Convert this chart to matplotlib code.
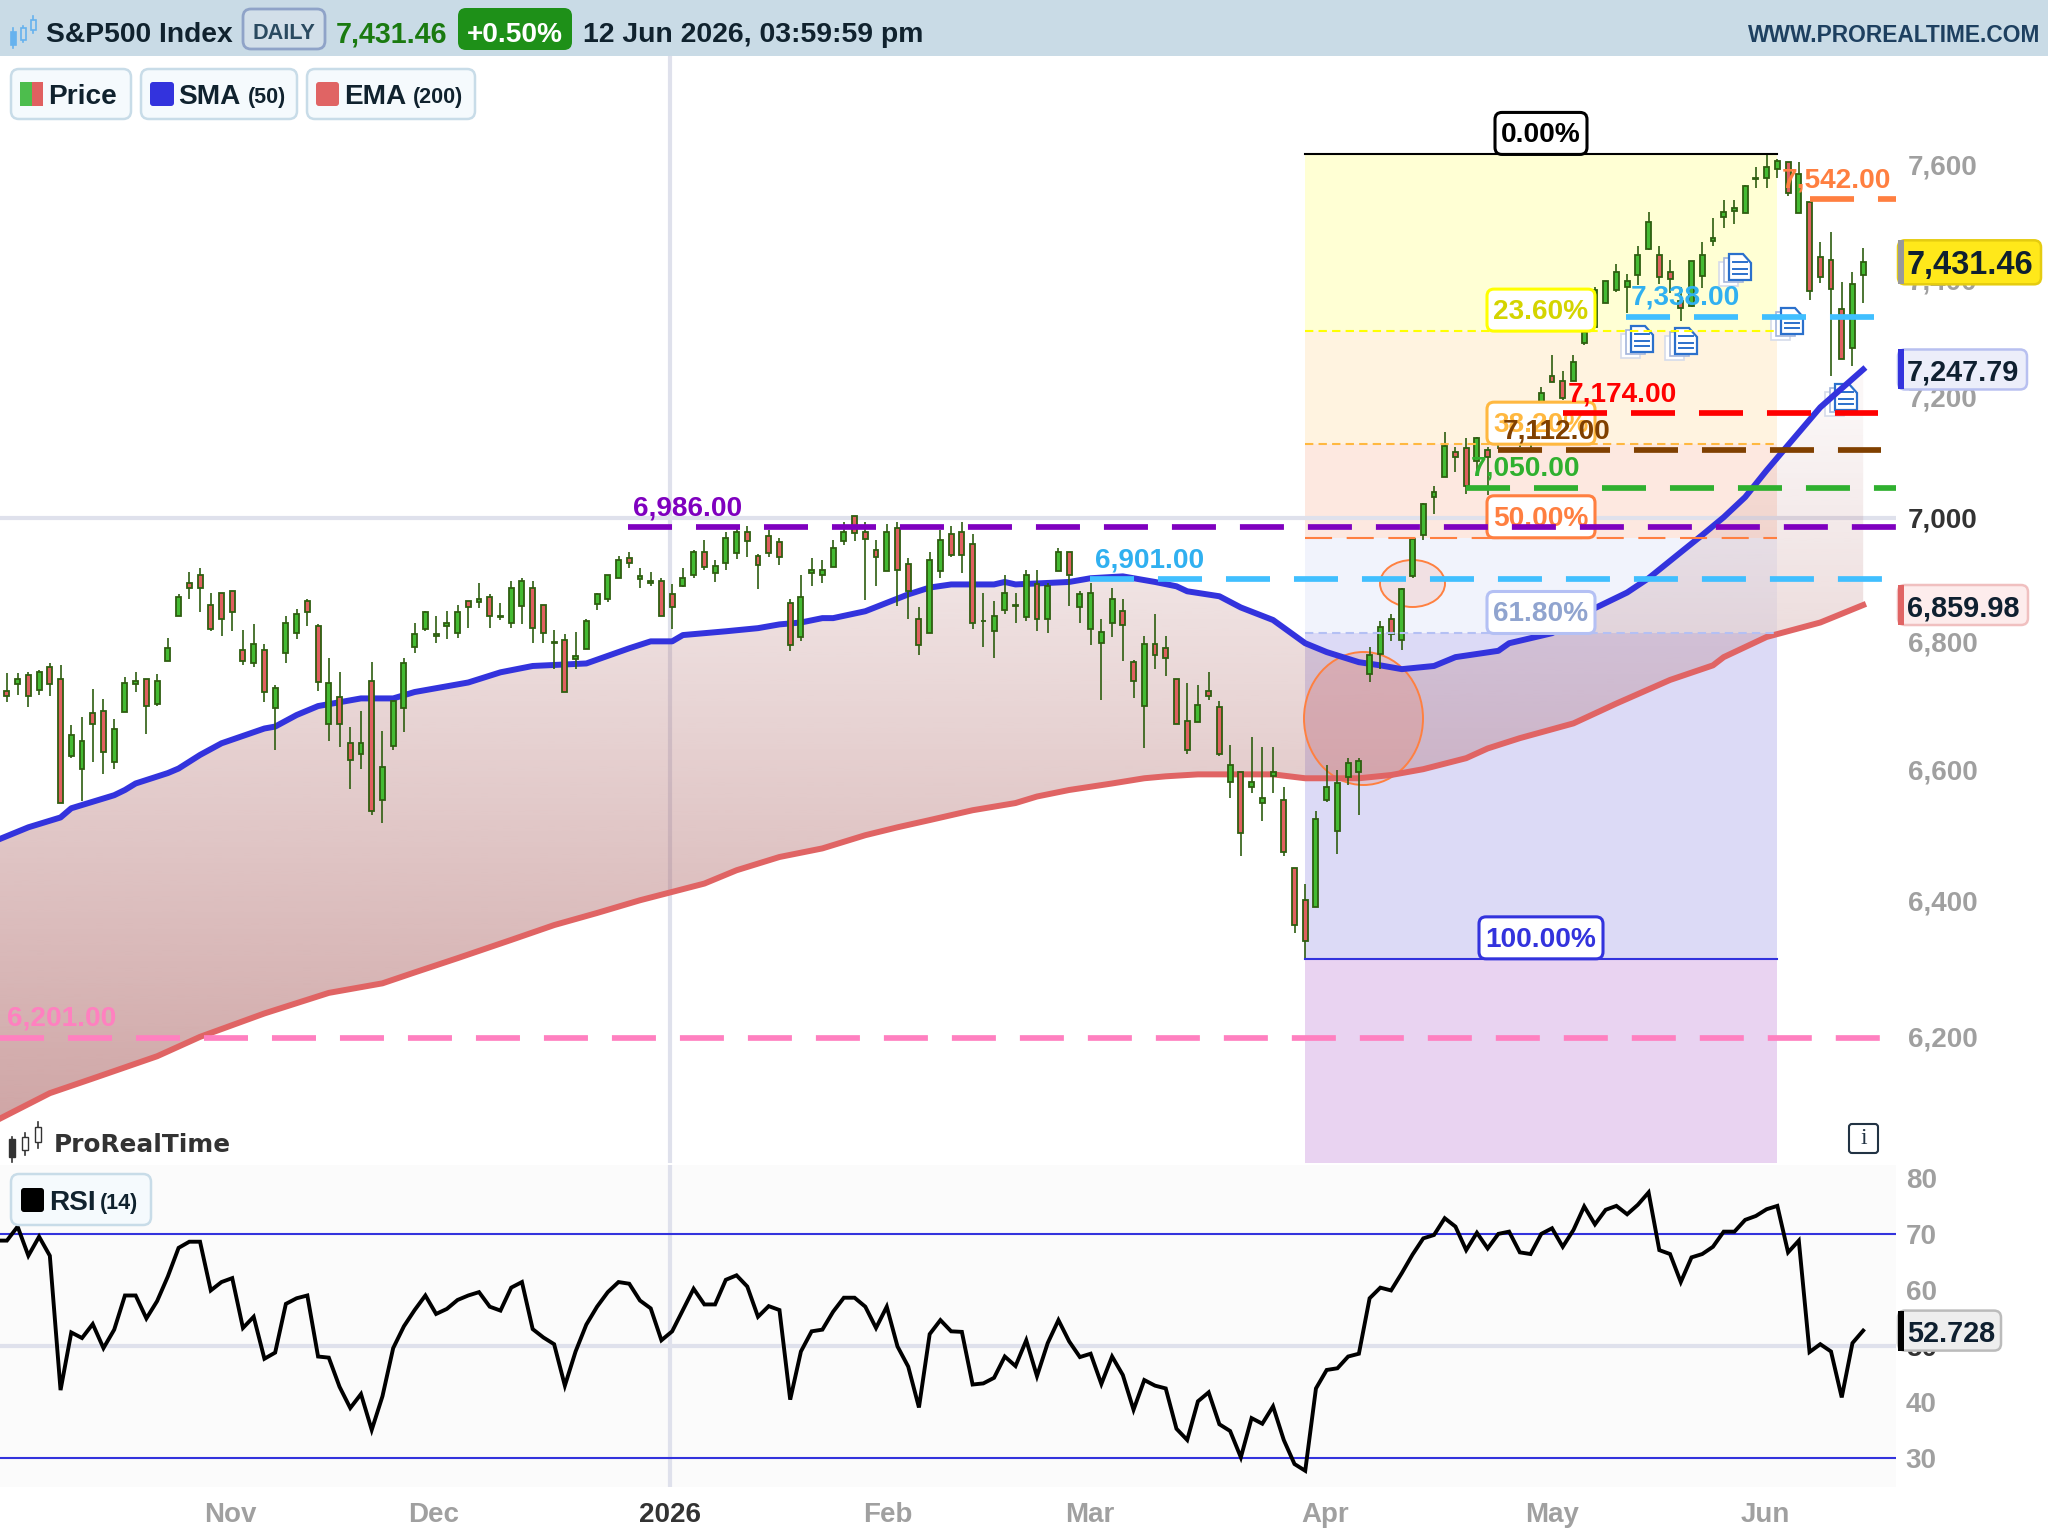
import numpy as np
import matplotlib
matplotlib.use("Agg")
import matplotlib.pyplot as plt
from matplotlib.patches import FancyBboxPatch, Ellipse, Rectangle, PathPatch, Polygon
from matplotlib.path import Path
from matplotlib.ticker import FixedLocator, FuncFormatter, NullLocator
from matplotlib.transforms import ScaledTranslation

plt.rcParams['font.family'] = ['Liberation Sans', 'DejaVu Sans']
plt.rcParams['font.weight'] = 'bold'

# daily S&P500 bars
opens = [6723,6734,6748,6725,6761,6742,6622,6603,6689,6692,
         6613,6691,6734,6742,6703,6771,6843,6896,6909,6860,
         6880,6883,6789,6768,6789,6697,6784,6815,6867,6826,
         6672,6714,6642,6625,6739,6554,6638,6697,6793,6821,
         6811,6827,6815,6867,6865,6873,6840,6831,6859,6887,
         6860,6799,6804,6774,6790,6862,6869,6904,6935,6901,
         6895,6899,6877,6891,6908,6945,6911,6927,6944,6978,
         6939,6971,6961,6863,6809,6911,6908,6921,6963,7004,
         6978,6948,6914,6984,6926,6838,6815,6914,6974,6978,
         6958,6834,6818,6852,6859,6840,6893,6837,6914,6945,
         6856,6821,6800,6831,6851,6770,6700,6798,6792,6742,
         6677,6675,6723,6698,6582,6597,6575,6550,6592,6555,
         6452,6403,6393,6555,6508,6590,6598,6750,6782,6838,
         6804,6907,6973,7035,7068,7109,7116,7095,7112,7129,
         7137,7145,7154,7170,7237,7229,7229,7292,7320,7361,
         7383,7389,7409,7454,7445,7414,7364,7356,7408,7468,
         7510,7521,7517,7577,7580,7595,7607,7517,7536,7440,
         7436,7351,7285,7409]
highs = [6752,6752,6754,6757,6767,6764,6670,6683,6726,6711,
         6680,6745,6754,6742,6751,6807,6877,6913,6919,6880,
         6880,6883,6820,6829,6798,6733,6842,6854,6870,6829,
         6776,6754,6667,6692,6770,6661,6708,6776,6832,6851,
         6842,6851,6860,6867,6896,6877,6863,6899,6903,6899,
         6860,6820,6814,6817,6838,6880,6909,6939,6945,6919,
         6913,6903,6893,6919,6948,6965,6932,6978,6988,6988,
         6942,6981,6968,6870,6909,6935,6932,6965,6994,7004,
         6994,6965,6991,6994,6935,6857,6945,6981,6988,6994,
         6974,6880,6867,6909,6880,6916,6916,6896,6952,6946,
         6883,6895,6838,6887,6870,6773,6810,6845,6810,6742,
         6736,6733,6754,6708,6639,6597,6652,6636,6636,6574,
         6452,6427,6538,6609,6600,6619,6619,6793,6835,6845,
         6887,6969,7025,7053,7142,7117,7132,7134,7117,7162,
         7175,7187,7195,7218,7273,7246,7273,7314,7388,7399,
         7428,7411,7459,7519,7459,7435,7388,7433,7466,7508,
         7540,7540,7566,7598,7621,7612,7607,7607,7536,7466,
         7484,7397,7414,7456]
lows = [6706,6718,6699,6718,6715,6550,6619,6553,6613,6594,
        6603,6691,6722,6656,6700,6771,6843,6869,6849,6818,
        6811,6818,6765,6762,6706,6631,6768,6805,6827,6724,
        6646,6637,6572,6603,6532,6520,6631,6659,6783,6818,
        6799,6805,6808,6824,6855,6824,6836,6824,6830,6799,
        6799,6759,6722,6759,6790,6852,6864,6904,6920,6888,
        6891,6843,6821,6889,6903,6917,6897,6916,6934,6937,
        6885,6937,6924,6787,6803,6891,6895,6921,6957,6963,
        6868,6891,6914,6859,6837,6781,6815,6904,6937,6911,
        6821,6793,6775,6846,6831,6834,6818,6815,6914,6859,
        6831,6796,6709,6809,6771,6712,6634,6759,6747,6672,
        6625,6675,6709,6622,6557,6469,6566,6522,6566,6469,
        6354,6316,6393,6552,6472,6577,6531,6737,6759,6803,
        6788,6904,6965,7008,7068,7076,7040,7078,7038,7115,
        7125,7117,7115,7162,7226,7197,7229,7290,7320,7361,
        7380,7344,7392,7452,7394,7378,7331,7355,7387,7459,
        7491,7499,7517,7561,7561,7580,7547,7517,7366,7396,
        7236,7265,7253,7361]
closes = [6715,6742,6715,6754,6734,6550,6655,6645,6672,6628,
          6664,6736,6739,6700,6739,6792,6873,6888,6888,6821,
          6837,6849,6771,6798,6722,6729,6832,6845,6849,6737,
          6736,6672,6616,6642,6538,6605,6708,6767,6814,6848,
          6814,6832,6848,6856,6870,6843,6842,6887,6899,6824,
          6815,6801,6722,6779,6835,6877,6909,6932,6927,6906,
          6899,6843,6856,6903,6945,6921,6922,6968,6978,6963,
          6924,6944,6937,6796,6873,6916,6916,6952,6978,6976,
          6966,6937,6978,6917,6882,6796,6932,6965,6940,6940,
          6831,6835,6842,6880,6860,6909,6837,6890,6945,6908,
          6877,6880,6817,6870,6828,6740,6798,6781,6775,6672,
          6631,6701,6715,6625,6608,6504,6583,6558,6597,6476,
          6366,6342,6526,6575,6581,6612,6615,6781,6825,6814,
          6885,6967,7023,7043,7119,7101,7053,7132,7101,7154,
          7162,7175,7187,7208,7226,7200,7260,7312,7383,7399,
          7414,7399,7445,7501,7406,7402,7352,7433,7445,7473,
          7519,7526,7565,7580,7598,7610,7552,7586,7381,7406,
          7385,7265,7394,7431.46]

# moving averages, values taken where the line bends
sma_bars = [-1,2,5,6,10,11,12,15,16,18,20,24,25,27,29,33,36,38,43,46,49,54,58,60,62,63,65,67,70,72,
            74,76,77,80,84,86,88,92,93,94,99,101,104,107,109,110,113,115,118,121,123,126,128,130,133,
            135,139,140,144,148,151,153,156,158,160,162,164,166,169,173]
sma50 = [6493,6513,6528,6542,6562,6570,6580,6596,6603,6624,6642,6665,6668,6686,6700,6712,6712,6722,6737,6753,
         6763,6767,6791,6802,6802,6812,6815,6818,6823,6829,6832,6839,6839,6850,6877,6888,6893,6893,6897,6893,
         6897,6903,6906,6897,6890,6882,6874,6856,6836,6799,6785,6769,6764,6758,6763,6777,6787,6799,6815,6855,
         6880,6903,6945,6973,7002,7035,7079,7121,7184,7247.79]
ema_bars = [-1,4,8,14,18,24,30,35,38,42,47,51,55,59,65,68,72,76,80,83,86,90,94,96,99,103,106,108,111,118,
            121,126,129,132,136,138,141,146,150,155,159,160,164,169,173]
ema200 = [6082,6121,6142,6174,6202,6236,6266,6280,6296,6317,6344,6366,6384,6403,6428,6448,6468,6481,6501,6513,
          6524,6539,6550,6560,6570,6580,6588,6591,6594,6594,6588,6588,6593,6602,6619,6634,6650,6673,6704,6741,
          6764,6777,6809,6832,6859.98]

# first value belongs to the session before the first visible bar
rsi14 = [68.8,68.8,71.3,66.1,69.5,66.1,42.1,52.4,51.4,53.9,49.6,
         52.9,59.0,59.0,54.9,58.0,62.4,67.5,68.6,68.6,59.9,
         61.4,62.1,53.2,55.2,47.7,48.8,57.5,58.5,59.0,48.1,
         47.9,42.7,38.9,41.4,35.0,41.0,49.6,53.5,56.4,59.0,
         55.7,56.6,58.2,59.0,59.6,57.0,56.3,60.4,61.4,53.0,
         51.5,50.3,42.9,49.0,53.8,57.0,59.6,61.4,61.1,58.1,
         56.7,51.0,52.6,56.4,60.2,57.4,57.4,61.8,62.6,60.6,
         55.2,57.1,56.4,40.4,49.0,52.6,52.9,56.1,58.6,58.6,
         57.0,53.2,57.0,49.9,46.3,39.0,52.1,54.6,52.6,52.5,
         43.1,43.3,44.3,48.1,46.4,51.0,44.6,50.5,54.6,50.8,
         48.0,48.6,43.2,48.1,44.8,38.6,43.9,42.9,42.4,35.2,
         33.2,40.1,41.7,36.0,34.8,30.1,37.1,36.1,39.2,33.2,
         28.9,27.7,42.4,45.7,46.0,48.1,48.6,58.5,60.4,59.9,
         63.0,66.3,69.2,69.8,72.8,71.3,67.1,70.2,67.4,70.0,
         70.4,66.7,66.4,70.0,71.0,67.7,70.7,74.9,71.7,74.3,
         75.0,73.5,75.2,77.4,67.1,66.4,61.4,65.8,66.4,67.7,
         70.4,70.4,72.5,73.2,74.4,75.0,66.7,68.8,48.9,50.3,
         49.0,40.8,50.5,52.728]

month_ticks = [20.8, 39.8, 61.8, 82.1, 100.95, 122.9, 144.0, 163.9]
month_labels = ['Nov', 'Dec', '2026', 'Feb', 'Mar', 'Apr', 'May', 'Jun']
price_ticks = [6200, 6400, 6600, 6800, 7000, 7200, 7400, 7600]
rsi_ticks = [30, 40, 50, 60, 70, 80]

# horizontal levels: price, colour, first bar, last bar
level_prices = [7542, 7338, 7174, 7112, 7050, 6986, 6901, 6201]
level_colors = ['#FF7F40', '#40BFFF', '#FF0000', '#804000', '#2FB02F', '#7F00BF', '#40BFFF', '#FF80C0']
level_text_colors = ['#FF7F40', '#30B0F0', '#FF0000', '#804000', '#2FB02F', '#7F00BF', '#30B0F0', '#FF80C0']
level_from = [168, 150.9, 145, 139, 136, 57.9, 100.9, -0.64]
level_to = [176.1, 174, 174.4, 174.7, 176.1, 176.1, 174.8, 174.7]

fib_ratios = [0.0, 0.236, 0.382, 0.5, 0.618, 1.0]
fib_names = ['0.00%', '23.60%', '38.20%', '50.00%', '61.80%', '100.00%']
fib_high = 7621
fib_low = 6316
fib_start = 121
fib_end = 165

BAR0, BARW = 6.9, 10.73
W, H = 2048, 1536
AX_R, AX_T, AX_B = 1896, 55, 1163
RSI_T, RSI_B = 1165, 1487

fig = plt.figure(figsize=(W / 100, H / 100), dpi=100, facecolor='white')
ax = fig.add_axes([0, 1 - AX_B / H, AX_R / W, (AX_B - AX_T) / H])
ax2 = fig.add_axes([0, 1 - RSI_B / H, AX_R / W, (RSI_B - RSI_T) / H])
ov = fig.add_axes([0, 0, 1, 1], facecolor='none', zorder=10)
ov.set_xlim(0, W)
ov.set_ylim(H, 0)
ov.axis('off')

xlim = (-BAR0 / BARW, (AX_R - BAR0) / BARW)
bars = np.arange(len(opens))


def set_limits():
    ax.set_yscale('log')
    ax.set_xlim(*xlim)
    ax.set_ylim(6022, 7800)


def py(price):
    # height of a price on the figure, counted from the top
    return H - ax.transData.transform((0, price))[1]


def rbox(target, x0, y0, x1, y1, fc, ec, lw=1.5, r=7, z=6):
    box = FancyBboxPatch((x0, y0), x1 - x0, y1 - y0, boxstyle=f"round,pad=0,rounding_size={r}",
                         fc=fc, ec=ec, lw=lw, zorder=z, transform=ov.transData, clip_on=False)
    target.add_patch(box)
    return box


def lab(x, y, s, size=20.2, color='#10222E', ha='left', weight='bold', target=ov, z=20, **kw):
    return target.text(x, y, s, fontsize=size, color=color, ha=ha, va='center', weight=weight,
                       transform=ov.transData, zorder=z, clip_on=False, **kw)


def note_icon(x, y):
    # stacked page marker, drawn behind the averages
    ax.add_patch(Rectangle((x - 10, y + 8), 19, 24, fc='white', ec='#D5DBEA', lw=1.2,
                           transform=ov.transData, zorder=3.5))
    ax.add_patch(Rectangle((x - 5, y + 4), 19, 24, fc='white', ec='#A3B5DC', lw=1.2,
                           transform=ov.transData, zorder=3.5))
    page = [(x, y), (x + 14, y), (x + 22, y + 9), (x + 22, y + 26), (x, y + 26)]
    ax.add_patch(Polygon(page, closed=True, fc='white', ec='#2B70CC', lw=1.6,
                         transform=ov.transData, zorder=3.6))
    for dy, x0 in [(8, 4), (15, 4), (20, 4)]:
        ax.plot([x + x0, x + 18], [y + dy, y + dy], color='#2B70CC', lw=1.4,
                transform=ov.transData, zorder=3.7)


set_limits()
ax.set_facecolor('white')

# fibonacci bands
fib_levels = [fib_high - r * (fib_high - fib_low) for r in fib_ratios]
band_colors = ['#FFFFD4', '#FFF3E0', '#FDE8E0', '#F1F3FC', '#DCDAF6']
for i, col in enumerate(band_colors):
    ax.fill_between([fib_start, fib_end], fib_levels[i + 1], fib_levels[i], color=col, lw=0, zorder=0.5)
ax.fill_between([fib_start, fib_end], 6022, fib_levels[-1], color='#E9D3F1', lw=0, zorder=0.5)

ax.axhline(7000, color='#DFE1EC', lw=3, zorder=1)
ax.axvline(month_ticks[2], color='#DFE1EC', lw=3, zorder=1)

# band between the averages, fading towards the top
ys = np.linspace(0, 1, 256)
grad = np.zeros((256, 1, 4))
grad[..., 0] = 170 / 255
grad[..., 1] = 97 / 255
grad[..., 2] = 97 / 255
grad[:, 0, 3] = np.clip(0.19 + ((AX_T + ys * (AX_B - AX_T)) - 600) / 500 * 0.36, 0.05, 0.62)
im = ax.imshow(grad, extent=(0, AX_R, AX_B, AX_T), transform=ov.transData, aspect='auto',
               origin='upper', zorder=2, interpolation='bilinear')
set_limits()
ribbon = np.vstack([np.column_stack([sma_bars, sma50]), np.column_stack([ema_bars[::-1], ema200[::-1]])])
im.set_clip_path(PathPatch(Path(ribbon, closed=False), transform=ax.transData))

# highlighted zones
ax.add_patch(Ellipse((1363.5, 718.5), 119, 133, fc=(0.95, 0.45, 0.30, 0.22), ec='none',
                     transform=ov.transData, zorder=3))
ax.add_patch(Ellipse((1363.5, 718.5), 119, 133, fc='none', ec='#FF8040', lw=1.4,
                     transform=ov.transData, zorder=3))
ax.add_patch(Ellipse((1412.5, 583.5), 65, 47, fc=(0.95, 0.45, 0.30, 0.14), ec='none',
                     transform=ov.transData, zorder=3))
ax.add_patch(Ellipse((1412.5, 583.5), 65, 47, fc='none', ec='#FF8040', lw=1.4,
                     transform=ov.transData, zorder=3))

for x, y in [(1729, 254), (1631, 326), (1675, 328), (1781, 308), (1835, 384)]:
    note_icon(x, y)

# moving averages
ax.plot(ema_bars, ema200, color='#E06464', lw=4.3, zorder=3.8, solid_joinstyle='round')
ax.plot(sma_bars, sma50, color='#3333DD', lw=4.3, zorder=3.8, solid_joinstyle='round')

# candles
opens_a, closes_a = np.array(opens), np.array(closes)
up = closes_a >= opens_a
ax.vlines(bars, lows, highs, color='#2E5E10', lw=1.2, zorder=4)
ax.bar(bars, np.abs(closes_a - opens_a), bottom=np.minimum(opens_a, closes_a), width=0.46,
       color=np.where(up, '#44BB33', '#E06060'), edgecolor='#2E5E10', linewidth=1.3, zorder=4.2)

# fibonacci lines and tags
fib_line_colors = ['#000000', '#FFFF00', '#FFB840', '#FF7F40', '#B4C0F4', '#3333DD']
fib_text_colors = ['#000000', '#D4D400', '#FFB840', '#FF7F40', '#90A4CF', '#3333DD']
fib_dashes = [None, (4, 2.5), (4, 2.5), (13, 7), (4, 2.5), None]
fib_half = [46, 54, 54, 54, 54, 62]
for lvl, lc, tc, d, hw, name in zip(fib_levels, fib_line_colors, fib_text_colors, fib_dashes, fib_half, fib_names):
    ls = '-' if d is None else (0, d)
    ax.plot([fib_start, fib_end], [lvl, lvl], color=lc, lw=1.5, ls=ls, zorder=5.5, dash_capstyle='butt')
    yb = py(lvl)
    rbox(ax, 1541 - hw, yb - 42, 1541 + hw, yb, 'white', lc, lw=2.2, r=7, z=6)
    lab(1541, yb - 19, name, color=tc, ha='center', target=ax, z=6.5)

# horizontal levels with dashes of fixed length
lw_level = 4.1
for p, c, a, b in zip(level_prices, level_colors, level_from, level_to):
    ax.plot([a, b], [p, p], color=c, lw=lw_level, ls=(0, (7.73, 4.21)), dash_capstyle='butt', zorder=7)
level_label_x = [1836, 1685, 1622, 1557, 1525, 688, 1150, 62]
for p, tc, x in zip(level_prices, level_text_colors, level_label_x):
    lab(x, py(p) - 19, f'{p:,.2f}', color=tc, ha='center', z=3)

ax.yaxis.tick_right()
ax.yaxis.set_major_locator(FixedLocator(price_ticks))
ax.yaxis.set_major_formatter(FuncFormatter(lambda v, _: f'{v:,.0f}'))
ax.yaxis.set_minor_locator(NullLocator())
ax.tick_params(axis='y', length=0, pad=8.5, labelsize=20, labelcolor='#A0A0A0')
for tl, v in zip(ax.get_yticklabels(), price_ticks):
    tl.set_transform(tl.get_transform() + ScaledTranslation(0, 1.3 / 100, fig.dpi_scale_trans))
    if v == 7000:
        tl.set_color('#333333')
ax.set_xticks([])
for s in ax.spines.values():
    s.set_visible(False)

# RSI panel
ax2.set_facecolor('#FBFBFB')
ax2.set_xlim(*xlim)
ax2.set_ylim(24.8, 82.3)
ax2.axhline(50, color='#DFE1EC', lw=3, zorder=1)
ax2.axvline(month_ticks[2], color='#DFE1EC', lw=3, zorder=1)
ax2.axhline(70, color='#3333DD', lw=1.5, zorder=2)
ax2.axhline(30, color='#3333DD', lw=1.5, zorder=2)
ax2.plot(np.arange(-1, len(opens)), rsi14, color='#000000', lw=2.8, zorder=3, solid_joinstyle='miter')
ax2.yaxis.tick_right()
ax2.set_yticks(rsi_ticks)
ax2.tick_params(axis='y', length=0, pad=7, labelsize=20, labelcolor='#A0A0A0')
for tl, v in zip(ax2.get_yticklabels(), rsi_ticks):
    if v == 50:
        tl.set_color('#333333')
ax2.set_xticks(month_ticks)
ax2.set_xticklabels(month_labels)
ax2.tick_params(axis='x', length=0, pad=11, labelsize=20, labelcolor='#A0A0A0')
ax2.get_xticklabels()[2].set_color('#333333')
for s in ax2.spines.values():
    s.set_visible(False)

# top bar
ov.add_patch(Rectangle((0, 0), W, 55.5, fc='#C9DBE6', ec='none', zorder=1))
for x, wt, wb, bt, bb in [(13, 28, 48, 32, 45), (23, 26, 42, 28, 40), (33, 16, 33, 20, 30)]:
    ov.plot([x, x], [wt, wb], color='#66B2EE', lw=1.2, zorder=2)
    ov.add_patch(Rectangle((x - 2.5, bt), 5, bb - bt, fc='#66B2EE' if x == 13 else '#C9DBE6',
                           ec='#66B2EE', lw=1.2, zorder=2))
lab(46.5, 35.5, 'S&P500 Index', size=20.3)
rbox(ov, 243, 9, 325, 49, '#D2DFE9', '#8FA3C8', lw=2, r=8, z=2)
lab(284, 33.5, 'DAILY', size=15.6, color='#2A4A60', ha='center')
lab(336, 34.5, '7,431.46', size=20.7, color='#1A7A10')
rbox(ov, 458, 8, 572, 50, '#1E9018', 'none', lw=0, r=8, z=2)
lab(515, 35.5, '+0.50%', size=20.2, color='white', ha='center')
lab(583, 35.5, '12 Jun 2026, 03:59:59 pm', size=20.4)
lab(2040, 36, 'WWW.PROREALTIME.COM', size=16.4, color='#1E4060', ha='right')

# legend chips
chip_fc, chip_ec = '#F5FAFD', '#C8DCE8'
rbox(ov, 11, 69, 131, 119, chip_fc, chip_ec, lw=1.8, r=8, z=2)
ov.add_patch(Rectangle((20, 82), 11.5, 24, fc='#4DBD4D', ec='none', zorder=3))
ov.add_patch(Rectangle((31.5, 82), 11.5, 24, fc='#E06060', ec='none', zorder=3))
lab(48.5, 96.5, 'Price')
rbox(ov, 141, 69, 297, 119, chip_fc, chip_ec, lw=1.8, r=8, z=2)
rbox(ov, 150, 82, 174, 106, '#3333DD', 'none', lw=0, r=3, z=3)
lab(178, 96.5, 'SMA')
lab(247.5, 97, '(50)', size=15.5)
rbox(ov, 307, 69, 475, 119, chip_fc, chip_ec, lw=1.8, r=8, z=2)
rbox(ov, 316, 82, 339, 106, '#E06464', 'none', lw=0, r=3, z=3)
lab(344, 96.5, 'EMA')
lab(413, 97, '(200)', size=15.5)
rbox(ov, 11, 1174, 151, 1225, chip_fc, chip_ec, lw=1.8, r=8, z=2)
rbox(ov, 21, 1188, 44, 1212, '#000000', 'none', lw=0, r=3, z=3)
lab(49, 1202.5, 'RSI')
lab(100, 1203, '(14)', size=15.5)

# watermark and info button
ov.plot([12, 12], [1137, 1162], color='#333333', lw=1.2, zorder=2)
ov.add_patch(Rectangle((9, 1139), 6, 18, fc='#333333', ec='#333333', lw=1, zorder=2))
ov.plot([25, 25], [1133, 1155], color='#333333', lw=1.2, zorder=2)
ov.add_patch(Rectangle((22, 1137), 6, 13, fc='white', ec='#333333', lw=1, zorder=2))
ov.plot([38, 38], [1122, 1148], color='#333333', lw=1.2, zorder=2)
ov.add_patch(Rectangle((35, 1127), 6, 15, fc='white', ec='#333333', lw=1, zorder=2))
lab(54, 1145, 'ProRealTime', size=17.8, color='#333333', fontfamily='DejaVu Sans')
rbox(ov, 1849, 1124, 1878, 1153, 'white', '#223344', lw=1.5, r=3, z=2)
lab(1863.5, 1138, 'i', size=17, color='#223344', ha='center', weight='normal', fontfamily='Liberation Serif')


def value_tag(y, x1, half_h, text, size, fc, ec, bar):
    # value tag on the right-hand scale, with a coloured stripe on its left side
    rbox(ov, 1898, y - half_h, x1, y + half_h, fc, ec, lw=1.8, r=7, z=4)
    ov.add_patch(Rectangle((1898, y - half_h), 5.5, 2 * half_h, fc=bar, ec='none', zorder=5))
    lab(1907, y + 3, text, size=size, color='#0F2030')


value_tag(py(closes[-1]), 2041, 22, '7,431.46', 23.5, '#FFE81A', '#E5CC10', '#999999')
value_tag(py(sma50[-1]), 2027, 20, '7,247.79', 20.8, '#ECEEFA', '#B8C0F0', '#3333DD')
value_tag(py(ema200[-1]), 2028, 20, '6,859.98', 20.8, '#FDECEC', '#F0C0C0', '#E06464')
rsi_y = H - ax2.transData.transform((0, rsi14[-1]))[1]
value_tag(rsi_y, 2001, 20, '52.728', 20.8, '#EEEEEE', '#BBBBBB', '#000000')

fig.savefig('out.png', dpi=100, facecolor='white')
